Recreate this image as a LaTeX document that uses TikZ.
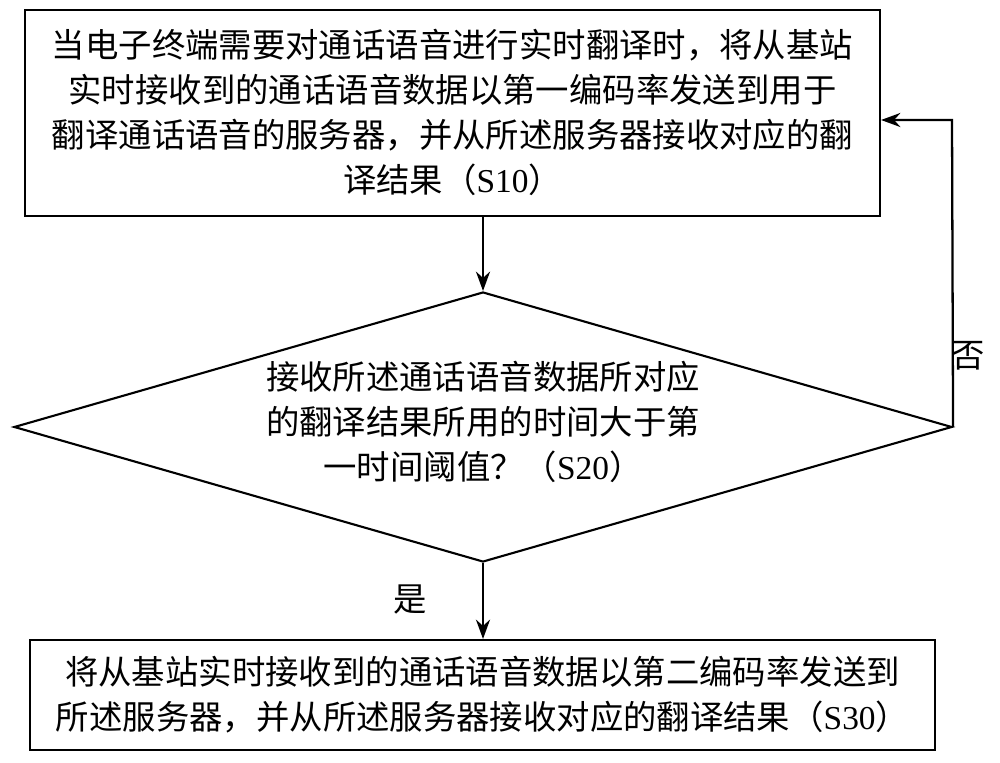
\documentclass[tikz,border=0pt]{standalone}
\usepackage{fontspec}
\setmainfont{Liberation Serif}
\newfontfamily\cjk{Noto Sans CJK SC}
\newcommand{\lat}[1]{{\rmfamily #1}}
\usetikzlibrary{shapes.geometric,arrows.meta}
\begin{document}
\begin{tikzpicture}[x=0.02cm,y=-0.02cm,
  box/.style={draw,line width=1.2pt,rectangle,inner sep=0},
  txt/.style={align=center,font=\cjk\fontsize{19}{25.6}\selectfont,inner sep=0},
  arr/.style={line width=1.3pt,-{Stealth[length=11pt,width=8pt]}}]
\useasboundingbox (0,0) rectangle (1000,763);
\node[box,minimum width=855*0.02cm,minimum height=206*0.02cm] (b1) at (452.5,113) {};
\node[txt] (t1) at (452.5,112) {当电子终端需要对通话语音进行实时翻译时，将从基站\\实时接收到的通话语音数据以第一编码率发送到用于\\翻译通话语音的服务器，并从所述服务器接收对应的翻\\译结果（\lat{S10}）};
\node[draw,line width=1.2pt,diamond,inner sep=0,minimum width=938*0.02cm,minimum height=270*0.02cm] (d) at (483,427) {};
\node[txt] (t2) at (483,422) {接收所述通话语音数据所对应\\的翻译结果所用的时间大于第\\一时间阈值？（\lat{S20}）};
\node[box,minimum width=905*0.02cm,minimum height=110*0.02cm] (b2) at (482.5,695) {};
\node[txt] (t3) at (482.5,695) {将从基站实时接收到的通话语音数据以第二编码率发送到\\所述服务器，并从所述服务器接收对应的翻译结果（\lat{S30}）};
\coordinate (c) at (952,120);
\draw[arr] (b1.south -| d.north) -- (d.north);
\draw[arr] (d.south) -- (b2.north -| d.south);
\draw[arr] (d.east) -- (c) -- (b1.east |- c);
\node[txt] (no) at (968,356) {否};
\node[txt] (yes) at (410,600) {是};
\end{tikzpicture}
\end{document}
